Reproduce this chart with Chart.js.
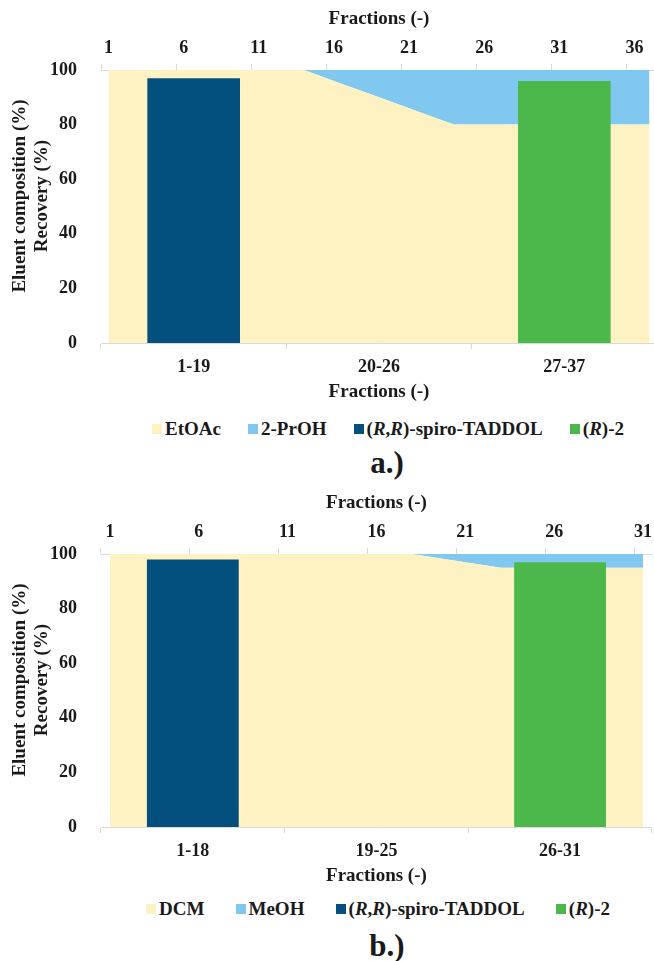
<!DOCTYPE html>
<html>
<head>
<meta charset="utf-8">
<script src="https://cdn.jsdelivr.net/npm/chart.js@4.4.1/dist/chart.umd.min.js"></script>
<style>
    body { margin: 0; width: 654px; height: 961px; overflow: hidden; background: #fff; position: relative;
           font-family: "Liberation Serif", "Times New Roman", serif; font-weight: bold; color: #1a1a1a; }
    canvas { position: absolute; left: 0; }
    .legend { position: absolute; display: flex; justify-content: space-between; align-items: center;
              font-size: 19px; line-height: 22px; white-space: nowrap; }
    .legend .sq { display: inline-block; width: 10px; height: 10px; margin-right: 3px; vertical-align: 1px; }
    .caption { position: absolute; width: 200px; text-align: center; font-size: 31px; line-height: 36px; }
</style>
</head>
<body>
<canvas id="chart-a" width="657" height="405" style="top:0"></canvas>
<div class="legend" id="legend-a" style="left:152px; width:472px; top:418px"></div>
<div class="caption" style="left:287px; top:445px">a.)</div>

<canvas id="chart-b" width="657" height="405" style="top:484px"></canvas>
<div class="legend" id="legend-b" style="left:146px; width:464px; top:898px"></div>
<div class="caption" style="left:287px; top:928px">b.)</div>

<script>
// --- chart a data ---
const fractionsA = ['1','2','3','4','5','6','7','8','9','10','11','12','13','14','15','16','17','18','19',
    '20','21','22','23','24','25','26','27','28','29','30','31','32','33','34','35','36','37'];
const poolsA = ['1-19', '20-26', '27-37'];
const etoacA = [100,100,100,100,100,100,100,100,100,100,100,100,100,100,
    98,96,94,92,90,88,86,84,82,80,
    80,80,80,80,80,80,80,80,80,80,80,80,80];
const prohA = [0,0,0,0,0,0,0,0,0,0,0,0,0,0,
    2,4,6,8,10,12,14,16,18,20,
    20,20,20,20,20,20,20,20,20,20,20,20,20];
const spiroA = [97, null, null];
const r2A = [null, null, 96];

// --- chart b data ---
const fractionsB = ['1','2','3','4','5','6','7','8','9','10','11','12','13','14','15','16',
    '17','18','19','20','21','22','23','24','25','26','27','28','29','30','31'];
const poolsB = ['1-18', '19-25', '26-31'];
const dcmB = [100,100,100,100,100,100,100,100,100,100,100,100,100,100,100,100,100,100,
    99,98,97,96,95,
    95,95,95,95,95,95,95,95];
const meohB = [0,0,0,0,0,0,0,0,0,0,0,0,0,0,0,0,0,0,
    1,2,3,4,5,
    5,5,5,5,5,5,5,5];
const spiroB = [98, null, null];
const r2B = [null, null, 97];

const yTitle = ['Eluent composition (%)', 'Recovery (%)'];
const xTitle = 'Fractions (-)';

const colors = ['#FFF2C2', '#80C8F0', '#03507F', '#4CB84C'];
const textColor = '#1a1a1a';
const axisColor = '#d9d9d9';
const tickFont = { family: '"Liberation Serif", serif', size: 18, weight: 'bold' };
const titleFont = { family: '"Liberation Serif", serif', size: 19, weight: 'bold' };

// y axis title drawn by hand so both lines sit where the original has them
const yTitlePlugin = {
    id: 'yTitle',
    afterDraw(chart, args, opts) {
        const ctx = chart.ctx;
        ctx.save();
        ctx.font = 'bold 19px "Liberation Serif", serif';
        ctx.fillStyle = textColor;
        ctx.textAlign = 'center';
        ctx.textBaseline = 'middle';
        opts.lines.forEach((line, i) => {
            ctx.save();
            ctx.translate(opts.x + i * opts.gap, opts.y);
            ctx.rotate(-Math.PI / 2);
            ctx.fillText(line, 0, 0);
            ctx.restore();
        });
        ctx.restore();
    }
};

function makeChart(id, fractions, pools, solvent1, solvent2, spiro, r2) {
    const ctx = document.getElementById(id).getContext('2d');
    return new Chart(ctx, {
        data: {
            datasets: [
                { type: 'line', label: 's1', data: solvent1, xAxisID: 'xTop', yAxisID: 'y', order: 1,
                  backgroundColor: colors[0], borderWidth: 0, pointRadius: 0, fill: 'origin' },
                { type: 'line', label: 's2', data: solvent2, xAxisID: 'xTop', yAxisID: 'y', order: 1,
                  backgroundColor: colors[1], borderWidth: 0, pointRadius: 0, fill: '-1' },
                { type: 'bar', label: 'spiro', data: spiro, xAxisID: 'x', yAxisID: 'y', order: 0, stack: 'bars',
                  grouped: false, backgroundColor: colors[2], barPercentage: 0.5, categoryPercentage: 1 },
                { type: 'bar', label: 'r2', data: r2, xAxisID: 'x', yAxisID: 'y', order: 0, stack: 'bars',
                  grouped: false, backgroundColor: colors[3], barPercentage: 0.5, categoryPercentage: 1 }
            ]
        },
        options: {
            responsive: false,
            animation: false,
            layout: { padding: 0 },
            plugins: {
                legend: { display: false },
                tooltip: { enabled: false },
                yTitle: { lines: yTitle, x: 20, gap: 22, y: 196 }
            },
            scales: {
                x: {
                    type: 'category', labels: pools, position: 'bottom', stacked: true, offset: true,
                    grid: { offset: true, drawOnChartArea: false, color: axisColor, tickLength: 6 },
                    border: { color: axisColor },
                    ticks: { font: tickFont, color: textColor, padding: 8, maxRotation: 0 },
                    title: { display: true, text: xTitle, font: titleFont, color: textColor, padding: { top: 0, bottom: 2 } },
                    afterFit: s => { s.height = 62; }
                },
                xTop: {
                    type: 'category', labels: fractions, position: 'top', offset: true,
                    grid: { offset: true, drawOnChartArea: false, tickLength: 6,
                            color: c => c.index % 5 === 0 ? axisColor : 'rgba(0,0,0,0)' },
                    border: { color: axisColor },
                    ticks: { font: tickFont, color: textColor, padding: 5, autoSkip: false, maxRotation: 0,
                             callback: (v, i) => i % 5 === 0 ? fractions[i] : '' },
                    title: { display: true, text: xTitle, font: titleFont, color: textColor, padding: { top: 8, bottom: 0 } },
                    afterFit: s => { s.height = 70; }
                },
                y: {
                    min: 0, max: 100, stacked: true,
                    grid: { display: false },
                    border: { display: false },
                    ticks: { stepSize: 20, font: tickFont, color: textColor, padding: 16 },
                    afterFit: s => { s.width = 101; }
                }
            }
        },
        plugins: [yTitlePlugin]
    });
}

function makeLegend(id, names) {
    const box = document.getElementById(id);
    names.forEach((name, i) => {
        const item = document.createElement('span');
        item.innerHTML = `<span class="sq" style="background:${colors[i]}"></span>${name}`;
        box.appendChild(item);
    });
}

makeChart('chart-a', fractionsA, poolsA, etoacA, prohA, spiroA, r2A);
makeChart('chart-b', fractionsB, poolsB, dcmB, meohB, spiroB, r2B);

makeLegend('legend-a', ['EtOAc', '2-PrOH', '(<i>R</i>,<i>R</i>)-spiro-TADDOL', '(<i>R</i>)-2']);
makeLegend('legend-b', ['DCM', 'MeOH', '(<i>R</i>,<i>R</i>)-spiro-TADDOL', '(<i>R</i>)-2']);
</script>
</body>
</html>
